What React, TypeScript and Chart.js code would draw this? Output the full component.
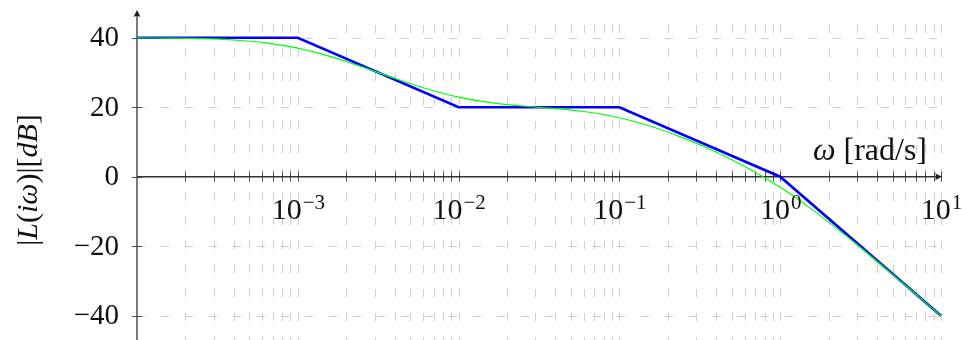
import React, { useEffect, useRef } from "react";
import { Chart, registerables } from "chart.js";

Chart.register(...registerables);

// Frequencies (rad/s) and magnitudes (dB)
const omegaExact = [1e-4, 1.585e-4, 2.512e-4, 3.981e-4, 6.31e-4, 1e-3, 1.585e-3, 2.512e-3, 3.981e-3, 6.31e-3, 1e-2, 1.585e-2, 2.512e-2, 3.981e-2, 6.31e-2, 0.1, 0.1585, 0.2512, 0.3981, 0.631, 1, 1.585, 2.512, 3.981, 6.31, 10];
const magExact = [39.96, 39.89, 39.74, 39.37, 38.56, 37.03, 34.65, 31.62, 28.37, 25.33, 22.92, 21.33, 20.36, 19.62, 18.63, 16.99, 14.46, 11.1, 7.1, 2.44, -3.05, -9.47, -16.65, -24.27, -32.11, -40.04];

const omegaAsym = [1e-4, 1e-3, 1e-2, 1e-1, 1, 10];
const magAsym = [40, 40, 20, 20, 0, -40];

const yTicks = [-40, -20, 0, 20, 40];
const xTickExponents = [-3, -2, -1, 0, 1];
const gridDecades = [-4, -3, -2, -1, 0];
const gridMultipliers = [1, 2, 3, 4, 5, 6, 7, 8, 9];

const X_MIN = 1e-4;
const X_MAX = 10;
const Y_MIN = -47;
const Y_MAX = 48;

const SERIF = '"Liberation Serif", "DejaVu Serif", serif';

function measureParts(ctx: CanvasRenderingContext2D, parts: { t: string; i: boolean }[], size: number) {
  const fonts = parts.map((p) => `${p.i ? "italic " : ""}${size}px ${SERIF}`);
  let total = 0;
  const widths = parts.map((p, k) => {
    ctx.font = fonts[k];
    const w = ctx.measureText(p.t).width;
    total += w;
    return w;
  });
  return { fonts, widths, total };
}

const axisPlugin = {
  id: "bodeAxes",
  beforeDatasetsDraw(chart: any) {
    const ctx: CanvasRenderingContext2D = chart.ctx;
    const xs = chart.scales.x;
    const ys = chart.scales.y;
    const area = chart.chartArea;
    const y0 = ys.getPixelForValue(0);
    const xAxis = xs.getPixelForValue(X_MIN);
    const xEnd = xs.getPixelForValue(X_MAX);
    ctx.save();
    // vertical grid
    ctx.strokeStyle = "rgb(205,205,205)";
    ctx.lineWidth = 1;
    ctx.setLineDash([8, 16]);
    ctx.lineDashOffset = 9;
    const gridX: number[] = [];
    gridDecades.forEach((d) => gridMultipliers.forEach((m) => gridX.push(m * Math.pow(10, d))));
    gridX.push(10);
    gridX.forEach((v) => {
      if (v <= X_MIN) return;
      const px = Math.round(xs.getPixelForValue(v)) + 0.5;
      ctx.beginPath();
      ctx.moveTo(px, area.top);
      ctx.lineTo(px, area.bottom);
      ctx.stroke();
    });
    // horizontal grid
    ctx.lineDashOffset = 0;
    yTicks.forEach((v) => {
      if (v === 0) return;
      const py = Math.round(ys.getPixelForValue(v)) + 0.5;
      ctx.beginPath();
      ctx.moveTo(xAxis, py);
      ctx.lineTo(xEnd, py);
      ctx.stroke();
    });
    ctx.setLineDash([]);
    // x ticks
    ctx.strokeStyle = "rgb(80,80,80)";
    ctx.lineWidth = 1;
    gridX.forEach((v) => {
      if (v <= X_MIN) return;
      const px = Math.round(xs.getPixelForValue(v)) + 0.5;
      ctx.beginPath();
      ctx.moveTo(px, y0 - 5);
      ctx.lineTo(px, y0 + 5);
      ctx.stroke();
    });
    // y ticks
    yTicks.forEach((v) => {
      const py = Math.round(ys.getPixelForValue(v)) + 0.5;
      ctx.beginPath();
      ctx.moveTo(xAxis - 5, py);
      ctx.lineTo(xAxis + 5, py);
      ctx.stroke();
    });
    // axes
    ctx.strokeStyle = "rgb(50,50,50)";
    ctx.fillStyle = "rgb(30,30,30)";
    ctx.lineWidth = 1.3;
    ctx.beginPath();
    ctx.moveTo(xAxis, area.bottom);
    ctx.lineTo(xAxis, area.top + 3);
    ctx.stroke();
    ctx.beginPath();
    ctx.moveTo(xAxis, y0);
    ctx.lineTo(xEnd - 3, y0);
    ctx.stroke();
    // arrows
    ctx.beginPath();
    ctx.moveTo(xAxis, area.top);
    ctx.lineTo(xAxis - 3.5, area.top + 7);
    ctx.quadraticCurveTo(xAxis, area.top + 5, xAxis + 3.5, area.top + 7);
    ctx.closePath();
    ctx.fill();
    ctx.beginPath();
    ctx.moveTo(xEnd + 1, y0);
    ctx.lineTo(xEnd - 6, y0 - 3.5);
    ctx.quadraticCurveTo(xEnd - 4, y0, xEnd - 6, y0 + 3.5);
    ctx.closePath();
    ctx.fill();
    ctx.restore();
  },
  afterDatasetsDraw(chart: any) {
    const ctx: CanvasRenderingContext2D = chart.ctx;
    const xs = chart.scales.x;
    const ys = chart.scales.y;
    const xAxis = xs.getPixelForValue(X_MIN);
    const y0 = ys.getPixelForValue(0);
    ctx.save();
    ctx.fillStyle = "#111";
    // y tick labels
    ctx.font = `29px ${SERIF}`;
    ctx.textAlign = "right";
    ctx.textBaseline = "middle";
    yTicks.forEach((v) => {
      const label = v < 0 ? "\u2212" + Math.abs(v) : String(v);
      ctx.fillText(label, xAxis - 18, ys.getPixelForValue(v) + 1);
    });
    // x tick labels 10^k
    ctx.textBaseline = "alphabetic";
    ctx.textAlign = "left";
    xTickExponents.forEach((e) => {
      const px = xs.getPixelForValue(Math.pow(10, e));
      ctx.font = `30px ${SERIF}`;
      const wBase = ctx.measureText("10").width;
      const sup = e < 0 ? "\u2212" + Math.abs(e) : String(e);
      ctx.font = `21px ${SERIF}`;
      const wSup = ctx.measureText(sup).width;
      const left = px - (wBase + wSup) / 2;
      ctx.font = `30px ${SERIF}`;
      ctx.fillText("10", left, y0 + 42);
      ctx.font = `21px ${SERIF}`;
      ctx.fillText(sup, left + wBase + 1, y0 + 32);
    });
    // x axis title
    {
      const parts = [
        { t: "\u03c9", i: true },
        { t: " [rad/s]", i: false },
      ];
      const m = measureParts(ctx, parts, 32);
      let x = 927 - m.total;
      parts.forEach((p, k) => {
        ctx.font = m.fonts[k];
        ctx.fillText(p.t, x, y0 - 17);
        x += m.widths[k];
      });
    }
    // y axis title (rotated)
    {
      const parts = [
        { t: "|", i: false },
        { t: "L", i: true },
        { t: "(", i: false },
        { t: "i\u03c9", i: true },
        { t: ")|[", i: false },
        { t: "dB", i: true },
        { t: "]", i: false },
      ];
      const m = measureParts(ctx, parts, 30);
      ctx.translate(37, 180);
      ctx.rotate(-Math.PI / 2);
      let x = -m.total / 2;
      parts.forEach((p, k) => {
        ctx.font = m.fonts[k];
        ctx.fillText(p.t, x, 0);
        x += m.widths[k];
      });
    }
    ctx.restore();
  },
};

export default function App() {
  const ref = useRef<HTMLCanvasElement | null>(null);
  useEffect(() => {
    if (!ref.current) return;
    const chart = new Chart(ref.current, {
      type: "line",
      data: {
        datasets: [
          {
            label: "exact",
            data: omegaExact.map((w, i) => ({ x: w, y: magExact[i] })),
            borderColor: "#00ff00",
            borderWidth: 1.2,
            pointRadius: 0,
            cubicInterpolationMode: "monotone",
            fill: false,
            clip: false as any,
            order: 0,
          },
          {
            label: "asymptotic",
            data: omegaAsym.map((w, i) => ({ x: w, y: magAsym[i] })),
            borderColor: "#0000ff",
            borderWidth: 2.6,
            pointRadius: 0,
            tension: 0,
            fill: false,
            clip: false as any,
            order: 1,
          },
        ],
      },
      options: {
        animation: false,
        responsive: false,
        events: [],
        layout: { padding: { left: 137, right: 21, top: 10, bottom: 0 } },
        plugins: { legend: { display: false }, tooltip: { enabled: false } },
        scales: {
          x: { type: "logarithmic", min: X_MIN, max: X_MAX, display: false },
          y: { type: "linear", min: Y_MIN, max: Y_MAX, display: false },
        },
      },
      plugins: [axisPlugin],
    });
    return () => chart.destroy();
  }, []);
  return (
    <div style={{ position: "absolute", left: 0, top: 0, width: 962, height: 340, background: "#fff" }}>
      <canvas ref={ref} width={962} height={340} style={{ display: "block" }} />
    </div>
  );
}
